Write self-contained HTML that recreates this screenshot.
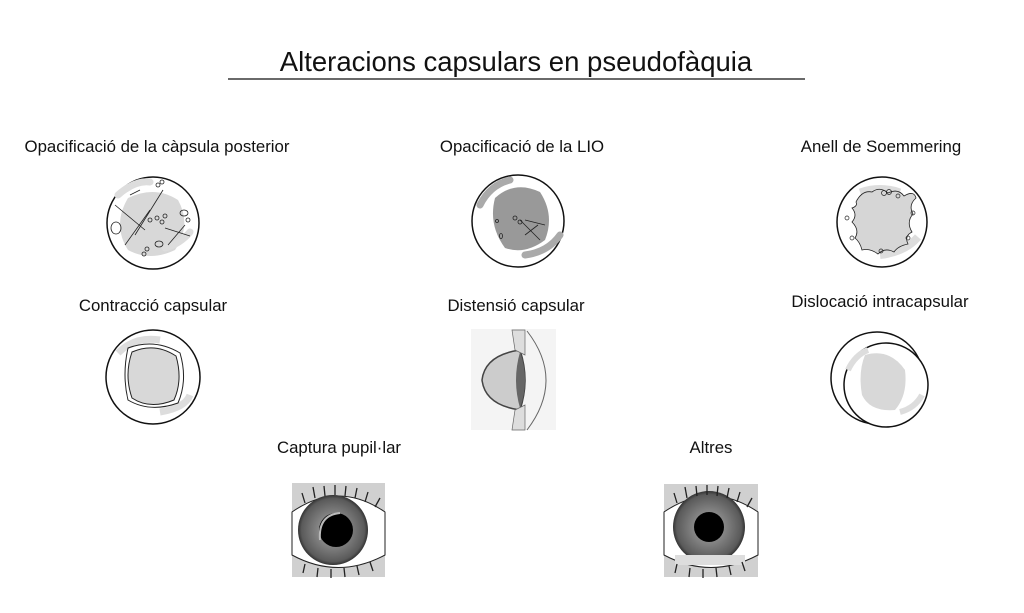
<!DOCTYPE html>
<html><head><meta charset="utf-8"><style>
body{margin:0;background:#fff;width:1024px;height:613px;overflow:hidden}
svg{display:block}
text{font-family:"Liberation Sans",sans-serif;fill:#111}
</style></head><body>
<svg width="1024" height="613" viewBox="0 0 1024 613">
<defs>
<radialGradient id="iris" cx="50%" cy="50%" r="50%">
<stop offset="0.4" stop-color="#888"/><stop offset="0.9" stop-color="#5a5a5a"/><stop offset="1" stop-color="#333"/>
</radialGradient>
</defs>
<text x="516" y="71" font-size="27.5" text-anchor="middle">Alteracions capsulars en pseudofàquia</text>
<line x1="228" y1="79" x2="805" y2="79" stroke="#111" stroke-width="1.3"/>

<g font-size="16.8" text-anchor="middle">
<text x="157" y="152">Opacificació de la càpsula posterior</text>
<text x="522" y="152">Opacificació de la LIO</text>
<text x="881" y="152">Anell de Soemmering</text>
<text x="153" y="311">Contracció capsular</text>
<text x="516" y="311">Distensió capsular</text>
<text x="880" y="307">Dislocació intracapsular</text>
<text x="339" y="453">Captura pupil·lar</text>
<text x="711" y="453">Altres</text>
</g>

<!-- 1 -->
<g>
<circle cx="153" cy="223" r="46" fill="#fff" stroke="#111" stroke-width="1.5"/>
<path d="M128 198 Q155 185 178 200 Q192 225 175 250 Q150 262 128 250 Q112 225 128 198Z" fill="#d8d8d8"/>
<path d="M118 195 Q135 180 150 182" stroke="#ddd" stroke-width="7" fill="none" stroke-linecap="round"/>
<path d="M165 248 Q180 244 190 232" stroke="#ddd" stroke-width="7" fill="none" stroke-linecap="round"/>
<g stroke="#222" stroke-width="0.8" fill="none">
<line x1="115" y1="205" x2="145" y2="230"/><line x1="125" y1="245" x2="150" y2="210"/>
<line x1="135" y1="235" x2="163" y2="190"/><line x1="130" y1="195" x2="140" y2="190"/>
<line x1="165" y1="228" x2="190" y2="236"/><line x1="168" y1="245" x2="185" y2="225"/>
<ellipse cx="116" cy="228" rx="5" ry="6"/><ellipse cx="184" cy="213" rx="4" ry="3"/>
<ellipse cx="159" cy="244" rx="4" ry="3"/><circle cx="157" cy="218" r="2"/><circle cx="162" cy="222" r="2"/>
<circle cx="150" cy="220" r="2"/><circle cx="165" cy="216" r="2"/><circle cx="158" cy="185" r="2"/><circle cx="162" cy="182" r="2"/>
<circle cx="144" cy="254" r="2"/><circle cx="147" cy="249" r="2"/><circle cx="188" cy="220" r="2"/>
</g>
</g>
<!-- 2 -->
<g>
<circle cx="518" cy="221" r="46" fill="#fff" stroke="#111" stroke-width="1.5"/>
<path d="M495 198 Q515 180 540 192 Q555 215 545 240 Q525 255 505 248 Q488 225 495 198Z" fill="#999"/>
<path d="M480 205 Q490 185 510 180" stroke="#aaa" stroke-width="7" fill="none" stroke-linecap="round"/>
<path d="M525 255 Q548 252 560 235" stroke="#aaa" stroke-width="7" fill="none" stroke-linecap="round"/>
<g stroke="#222" stroke-width="0.8" fill="none"><line x1="520" y1="220" x2="540" y2="240"/><line x1="525" y1="235" x2="538" y2="225"/><line x1="525" y1="220" x2="545" y2="225"/><circle cx="497" cy="221" r="1.5"/><circle cx="515" cy="218" r="2"/><circle cx="520" cy="222" r="2"/><ellipse cx="501" cy="236" rx="1.5" ry="2.5"/></g>
</g>
<!-- 3 -->
<g>
<circle cx="882" cy="222" r="45" fill="#fff" stroke="#111" stroke-width="1.5"/>
<path d="M860 192 Q880 185 900 192" stroke="#ddd" stroke-width="7" fill="none"/>
<path d="M880 255 Q905 252 918 237" stroke="#ddd" stroke-width="8" fill="none"/>
<path d="M856 202 Q862 190 872 192 Q880 186 888 193 Q898 188 904 196 Q914 190 916 198 Q908 205 913 214 Q906 222 912 232 Q904 236 908 244 Q898 246 894 252 Q885 247 878 254 Q870 248 862 250 Q860 242 855 238 Q860 230 852 222 Q858 215 852 208 Q858 206 856 202Z" fill="#d6d6d6" stroke="#222" stroke-width="0.8"/>
<g stroke="#222" stroke-width="0.7" fill="none"><circle cx="884" cy="193" r="2.5"/><circle cx="889" cy="192" r="2.5"/><circle cx="898" cy="196" r="2"/><circle cx="847" cy="218" r="2"/><circle cx="913" cy="213" r="2"/><circle cx="908" cy="238" r="2"/><circle cx="881" cy="251" r="2"/><circle cx="852" cy="238" r="2"/></g>
</g>
<!-- 4 -->
<g>
<circle cx="153" cy="377" r="47" fill="#fff" stroke="#111" stroke-width="1.5"/>
<path d="M118 353 Q135 336 160 340" stroke="#ddd" stroke-width="7" fill="none"/>
<path d="M160 412 Q185 408 190 395" stroke="#ddd" stroke-width="7" fill="none"/>
<path d="M128 348 Q155 338 180 353 Q188 380 178 403 Q150 413 128 400 Q122 375 128 348Z" fill="none" stroke="#222" stroke-width="1"/>
<path d="M132 352 Q155 342 176 356 Q183 380 174 400 Q150 410 132 398 Q124 375 132 352Z" fill="#d8d8d8" stroke="#222" stroke-width="1"/>
</g>
<!-- 5 distension -->
<g>
<rect x="471" y="329" width="85" height="101" fill="#f4f4f4"/>
<path d="M520 350 Q485 355 482 380 Q485 405 520 410 Q530 380 520 350Z" fill="#ccc" stroke="#444" stroke-width="1.5"/>
<path d="M520 352 Q530 380 520 408 Q512 380 520 352Z" fill="#666"/>
<path d="M512 330 L525 330 L525 355 L515 350Z" fill="#ddd" stroke="#666" stroke-width="0.7"/>
<path d="M512 430 L525 430 L525 405 L515 410Z" fill="#ddd" stroke="#666" stroke-width="0.7"/>
<path d="M527 331 Q565 380 527 430" fill="none" stroke="#666" stroke-width="1"/>
</g>
<!-- 6 -->
<g>
<circle cx="877" cy="378" r="46" fill="#fff" stroke="#111" stroke-width="1.5"/>
<circle cx="886" cy="385" r="42" fill="#fff" stroke="#111" stroke-width="1.5"/>
<path d="M865 355 Q890 348 905 370 Q908 395 895 410 Q870 412 862 395 Q858 372 865 355Z" fill="#d8d8d8"/>
<path d="M848 370 Q855 355 868 350" stroke="#ddd" stroke-width="6" fill="none"/>
<path d="M900 412 Q915 408 922 395" stroke="#ddd" stroke-width="6" fill="none"/>
</g>
<!-- eyes -->
<g>
<rect x="292" y="483" width="93" height="94" fill="#d0d0d0"/>
<path d="M292 512 Q338 480 385 512 L385 555 Q338 580 292 555Z" fill="#fff" stroke="#222" stroke-width="1"/>
<circle cx="333" cy="530" r="35" fill="url(#iris)"/>
<circle cx="336" cy="530" r="17" fill="#000"/>
<path d="M320 540 Q318 515 340 513" stroke="#bbb" stroke-width="2" fill="none"/>
<g stroke="#222" stroke-width="1.3"><line x1="305" y1="503" x2="302" y2="493"/><line x1="315" y1="498" x2="313" y2="487"/><line x1="325" y1="496" x2="324" y2="486"/><line x1="335" y1="495" x2="335" y2="485"/><line x1="345" y1="496" x2="346" y2="486"/><line x1="355" y1="498" x2="357" y2="488"/><line x1="365" y1="502" x2="368" y2="492"/><line x1="375" y1="507" x2="380" y2="498"/>
<line x1="305" y1="564" x2="303" y2="573"/><line x1="318" y1="568" x2="317" y2="577"/><line x1="331" y1="569" x2="331" y2="578"/><line x1="344" y1="568" x2="345" y2="577"/><line x1="357" y1="566" x2="359" y2="575"/><line x1="370" y1="562" x2="373" y2="571"/></g>
</g>
<g>
<rect x="664" y="484" width="94" height="93" fill="#d0d0d0"/>
<path d="M664 512 Q711 480 758 512 L758 555 Q711 580 664 555Z" fill="#fff" stroke="#222" stroke-width="1"/>
<circle cx="709" cy="527" r="36" fill="url(#iris)"/>
<rect x="675" y="555" width="70" height="10" fill="#ddd"/>
<circle cx="709" cy="527" r="15" fill="#000"/>
<g stroke="#222" stroke-width="1.3"><line x1="677" y1="503" x2="674" y2="493"/><line x1="687" y1="498" x2="685" y2="487"/><line x1="697" y1="496" x2="696" y2="486"/><line x1="707" y1="495" x2="707" y2="485"/><line x1="717" y1="496" x2="718" y2="486"/><line x1="727" y1="498" x2="729" y2="488"/><line x1="737" y1="502" x2="740" y2="492"/><line x1="747" y1="507" x2="752" y2="498"/>
<line x1="677" y1="564" x2="675" y2="573"/><line x1="690" y1="568" x2="689" y2="577"/><line x1="703" y1="569" x2="703" y2="578"/><line x1="716" y1="568" x2="717" y2="577"/><line x1="729" y1="566" x2="731" y2="575"/><line x1="742" y1="562" x2="745" y2="571"/></g>
</g>
</svg>
</body></html>
